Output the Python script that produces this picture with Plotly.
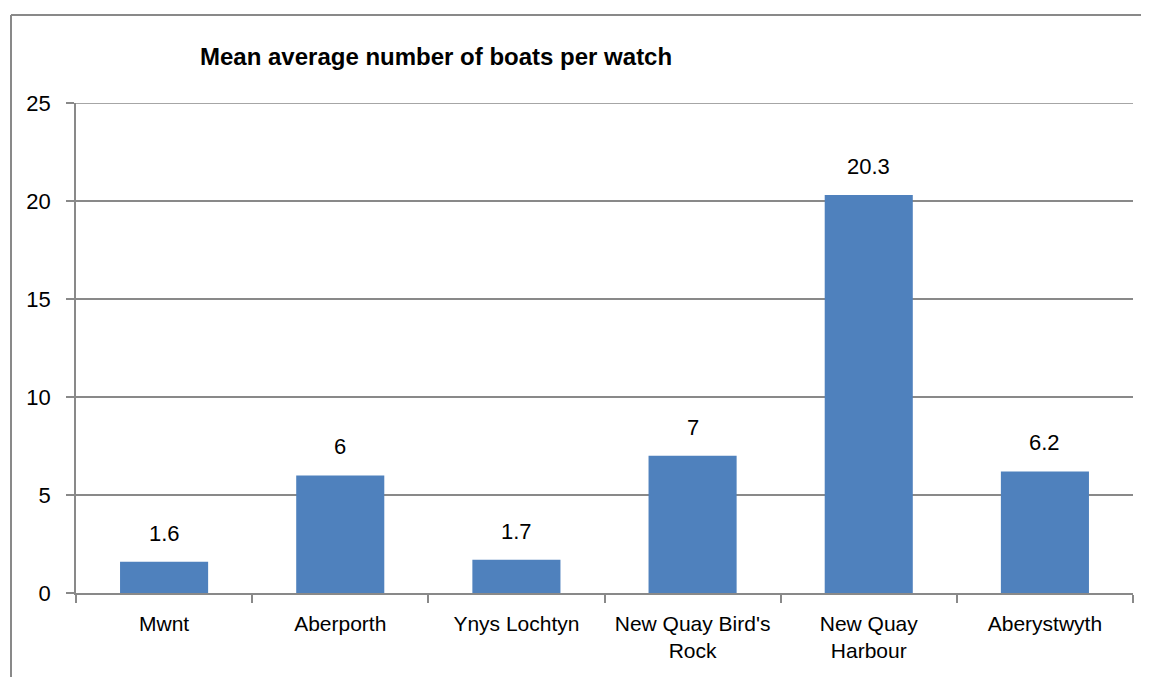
import plotly.graph_objects as go

categories = ["Mwnt", "Aberporth", "Ynys Lochtyn", "New Quay Bird's<br>Rock", "New Quay<br>Harbour", "Aberystwyth"]
values = [1.6, 6, 1.7, 7, 20.3, 6.2]
value_labels = ["1.6", "6", "1.7", "7", "20.3", "6.2"]
y_ticks = [0, 5, 10, 15, 20, 25]
title_text = "Mean average number of boats per watch"

FONT = "Liberation Sans, Arial, sans-serif"
GRID = "#898989"
OFF = 8  # page body margin
W, H = 1149 - OFF, 677 - OFF
L, R, T, B = 76 - OFF, 16, 103 - OFF, 84
pw, ph = W - L - R, H - T - B

fig = go.Figure()
fig.add_trace(go.Bar(x=categories, y=values, marker=dict(color="#4F81BD", line=dict(width=0)),
                     hoverinfo="x+y"))

for c, v, t in zip(categories, values, value_labels):
    fig.add_annotation(x=c, y=v, text=t, showarrow=False, yanchor="bottom", yshift=14,
                       font=dict(family=FONT, size=22, color="#000000"))

# top gridline
fig.add_shape(type="line", xref="paper", yref="y", x0=0, x1=1, y0=y_ticks[-1], y1=y_ticks[-1],
              line=dict(color=GRID, width=1.5), layer="below")

# outer frame (left and top)
fx = (11 - OFF - L) / pw
fy = (H - B - (15 - OFF)) / ph
fig.add_shape(type="line", xref="paper", yref="paper", x0=fx, x1=fx, y0=fy, y1=-1, line=dict(color=GRID, width=2))
fig.add_shape(type="line", xref="paper", yref="paper", x0=fx, x1=(W - L) / pw, y0=fy, y1=fy, line=dict(color=GRID, width=2))

fig.update_layout(
    width=W, height=H,
    margin=dict(l=L, r=R, t=T, b=B, pad=0, autoexpand=False),
    plot_bgcolor="white", paper_bgcolor="white",
    bargap=0.5,
    showlegend=False,
    title=dict(text="<b>" + title_text + "</b>", xref="container", yref="container",
               x=(200 - OFF) / W, xanchor="left", y=1 - (57 - OFF) / H, yanchor="middle",
               font=dict(family=FONT, size=24, color="#000000")),
    font=dict(family=FONT, size=21, color="#000000"),
)
fig.update_yaxes(range=[0, 25], tickvals=y_ticks, showgrid=True, gridcolor=GRID, gridwidth=1.5,
                 showline=True, linecolor=GRID, linewidth=1.5, ticks="outside", ticklen=8,
                 tickcolor=GRID, tickwidth=1.5, zeroline=False, ticklabelstandoff=11,
                 automargin=False, tickfont=dict(family=FONT, size=22, color="#000000"))
fig.update_xaxes(showline=True, linecolor=GRID, linewidth=1.5, ticks="outside", ticklen=8,
                 tickcolor=GRID, tickwidth=1.5, tickson="boundaries", showgrid=False,
                 tickangle=0, automargin=False,
                 tickfont=dict(family=FONT, size=21, color="#000000"), ticklabelstandoff=11)

fig.write_html("out.html")
